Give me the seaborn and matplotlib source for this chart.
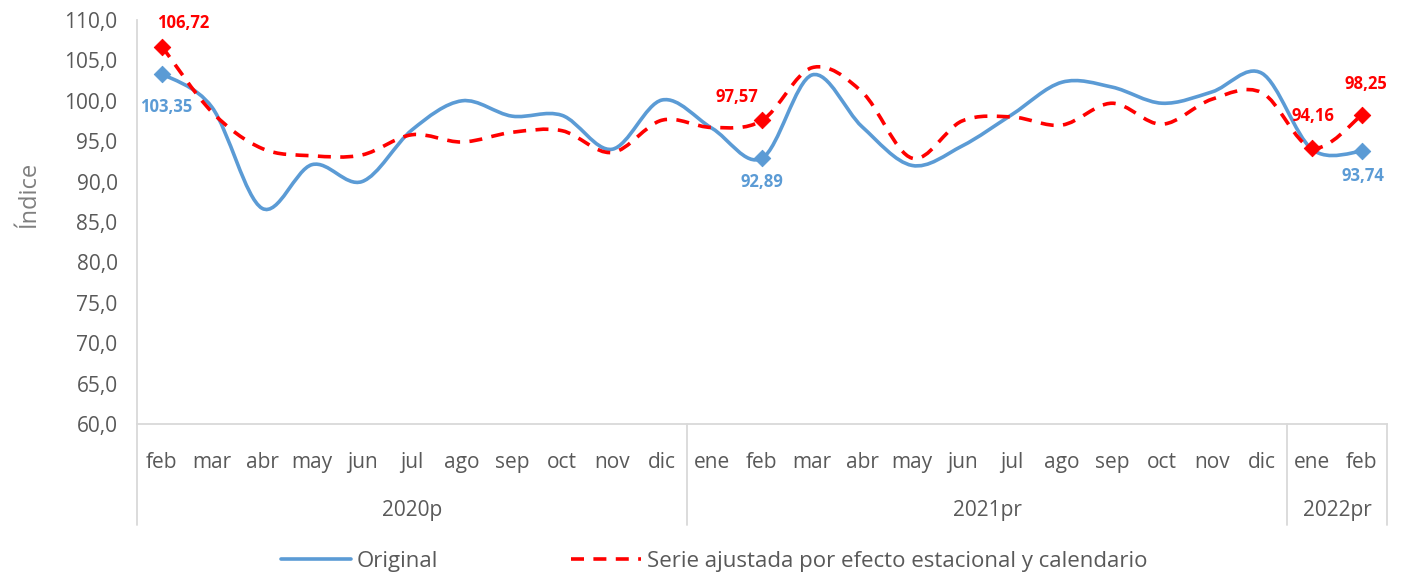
import numpy as np
import pandas as pd
import matplotlib
matplotlib.use("Agg")
import matplotlib.pyplot as plt
from matplotlib.path import Path
from matplotlib.patches import PathPatch
from matplotlib.lines import Line2D
import matplotlib.transforms as mtransforms
import seaborn as sns

# Data
months = ["feb", "mar", "abr", "may", "jun", "jul", "ago", "sep", "oct", "nov", "dic",
          "ene", "feb", "mar", "abr", "may", "jun", "jul", "ago", "sep", "oct", "nov", "dic",
          "ene", "feb"]
years = ["2020p", "2021pr", "2022pr"]
year_sizes = [11, 12, 2]

original = [103.35, 99.2, 86.7, 92.1, 90.0, 96.4, 100.0, 98.1, 98.2, 94.0, 100.1,
            96.6, 92.89, 103.2, 96.8, 92.0, 94.4, 98.3, 102.3, 101.7, 99.7, 101.1, 103.4,
            94.0, 93.74]
ajustada = [106.72, 98.6, 94.1, 93.2, 93.3, 95.8, 94.9, 96.1, 96.3, 93.6, 97.6,
            96.7, 97.57, 104.1, 101.1, 92.9, 97.5, 98.0, 97.0, 99.7, 97.1, 100.2, 101.0,
            94.16, 98.25]

orig_marks = [0, 12, 24]
ajus_marks = [0, 12, 23, 24]

y_ticks = [60, 65, 70, 75, 80, 85, 90, 95, 100, 105, 110]

BLUE = "#5B9BD5"
RED = "#FF0000"
GRAY = "#595959"

df = pd.DataFrame({"pos": np.arange(len(months)), "mes": months,
                   "Original": original, "Ajustada": ajustada})

sns.set_style("white")
plt.rcParams["font.family"] = ["Open Sans", "DejaVu Sans"]


def smooth_path(x, y):
    # Excel style smoothed line: cubic bezier through every point
    pts = np.column_stack([x, y]).astype(float)
    n = len(pts)
    verts = [pts[0]]
    codes = [Path.MOVETO]
    for i in range(n - 1):
        p0 = pts[i - 1] if i > 0 else pts[i]
        p1 = pts[i]
        p2 = pts[i + 1]
        p3 = pts[i + 2] if i + 2 < n else pts[i + 1]
        c1 = p1 + (p2 - p0) / 6.0
        c2 = p2 - (p3 - p1) / 6.0
        verts += [c1, c2, p2]
        codes += [Path.CURVE4] * 3
    return Path(verts, codes)


fig = plt.figure(figsize=(14.11, 5.73), dpi=100)
ax = fig.add_axes([137 / 1411, 1 - 424 / 573, 1250 / 1411, 404 / 573])

ax.add_patch(PathPatch(smooth_path(df["pos"], df["Original"]), facecolor="none",
                       edgecolor=BLUE, lw=2.6, capstyle="round", zorder=3))
ax.add_patch(PathPatch(smooth_path(df["pos"], df["Ajustada"]), facecolor="none",
                       edgecolor=RED, lw=2.6, linestyle=(0, (3.6, 2.6)), zorder=4))

sns.scatterplot(data=df.iloc[orig_marks], x="pos", y="Original", marker="D", s=70,
                color=BLUE, edgecolor=BLUE, ax=ax, zorder=5)
sns.scatterplot(data=df.iloc[ajus_marks], x="pos", y="Ajustada", marker="D", s=70,
                color=RED, edgecolor=RED, ax=ax, zorder=6)

# data labels
orig_offsets = {0: (3, -24), 12: (0, -17), 24: (1, -18)}
ajus_offsets = {0: (15, 17), 12: (-18, 17), 23: (1, 23), 24: (3, 22)}
for i, off in orig_offsets.items():
    ax.annotate(f"{original[i]:.2f}".replace(".", ","), (i, original[i]), xytext=off,
                textcoords="offset points", ha="center", va="center",
                color=BLUE, fontsize=12, fontweight="bold", zorder=7)
for i, off in ajus_offsets.items():
    ax.annotate(f"{ajustada[i]:.2f}".replace(".", ","), (i, ajustada[i]), xytext=off,
                textcoords="offset points", ha="center", va="center",
                color=RED, fontsize=12, fontweight="bold", zorder=7)

ax.set_xlim(-0.5, len(months) - 0.5)
ax.set_ylim(60, 110)
ax.set_yticks(y_ticks)
ax.set_yticklabels([f"{v:.1f}".replace(".", ",") for v in y_ticks])
ax.set_xticks(df["pos"])
ax.set_xticklabels(months)
ax.tick_params(axis="y", length=5, width=1.2, color="#D9D9D9", pad=9,
               labelsize=15, labelcolor=GRAY)
ax.tick_params(axis="x", length=0, pad=20, labelsize=15, labelcolor=GRAY)
ax.set_xlabel("")
ax.set_ylabel("Índice", fontsize=17, color="#7F7F7F")
ax.yaxis.set_label_coords(-0.077, 0.57)

for side in ["top", "right"]:
    ax.spines[side].set_visible(False)
for side in ["left", "bottom"]:
    ax.spines[side].set_color("#D9D9D9")
    ax.spines[side].set_linewidth(1.3)

# year group separators and labels below the axis
trans = mtransforms.blended_transform_factory(ax.transData, ax.transAxes)
edges = np.concatenate([[0], np.cumsum(year_sizes)]) - 0.5
for e in edges:
    ax.add_line(Line2D([e, e], [0, -0.25], transform=trans, color="#D9D9D9",
                       lw=1.3, clip_on=False))
for yr, a, b in zip(years, edges[:-1], edges[1:]):
    ax.text((a + b) / 2, -0.213, yr, transform=trans, ha="center", va="center",
            fontsize=15, color=GRAY)

handles = [Line2D([], [], color=BLUE, lw=2.6),
           Line2D([], [], color=RED, lw=2.6, linestyle=(0, (3.6, 2.6)))]
fig.legend(handles, ["Original", "Serie ajustada por efecto estacional y calendario"],
           loc="center", bbox_to_anchor=(0.506, 0.02), ncol=2, frameon=False,
           fontsize=16, labelcolor=GRAY, handlelength=3.15, handletextpad=0.25,
           columnspacing=6.0)

fig.savefig("out.png", dpi=100)
